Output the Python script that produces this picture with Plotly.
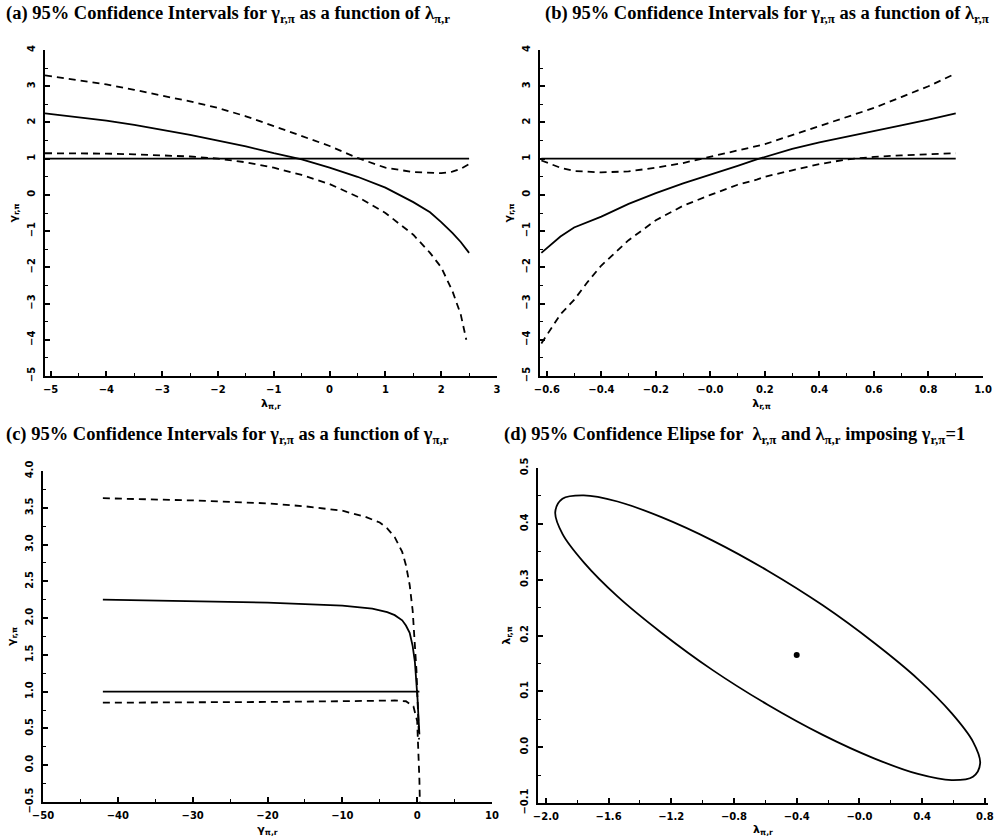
import plotly.graph_objects as go

# ---------------- Panel (a): gamma_{r,pi} vs lambda_{pi,r}
a_lam = [-5.1, -4.5, -4.0, -3.5, -3.0, -2.5, -2.0, -1.5, -1.0, -0.5, 0.0, 0.5, 1.0, 1.5, 1.8, 2.0, 2.2, 2.35, 2.5]
a_mid = [2.25, 2.15, 2.05, 1.93, 1.80, 1.66, 1.50, 1.34, 1.15, 0.98, 0.75, 0.50, 0.20, -0.20, -0.48, -0.75, -1.05, -1.30, -1.60]
a_up = [3.30, 3.17, 3.05, 2.90, 2.75, 2.58, 2.40, 2.17, 1.90, 1.63, 1.35, 1.02, 0.75, 0.63, 0.60, 0.60, 0.64, 0.72, 0.85]
a_lo_x = [-5.1, -4.5, -4.0, -3.5, -3.0, -2.5, -2.0, -1.5, -1.0, -0.5, 0.0, 0.5, 1.0, 1.5, 1.8, 2.0, 2.2, 2.35, 2.45]
a_lo = [1.15, 1.15, 1.14, 1.12, 1.10, 1.06, 1.00, 0.90, 0.75, 0.55, 0.30, -0.05, -0.50, -1.10, -1.60, -2.00, -2.65, -3.30, -4.00]
a_ref_x = [-5.1, 2.5]
a_ref_y = [1, 1]

# ---------------- Panel (b): gamma_{r,pi} vs lambda_{r,pi}
b_lam = [-0.62, -0.55, -0.5, -0.45, -0.4, -0.3, -0.2, -0.1, 0.0, 0.1, 0.17, 0.2, 0.3, 0.4, 0.5, 0.6, 0.7, 0.8, 0.9]
b_mid = [-1.60, -1.15, -0.90, -0.75, -0.60, -0.25, 0.05, 0.32, 0.55, 0.80, 0.98, 1.05, 1.27, 1.45, 1.60, 1.75, 1.92, 2.08, 2.25]
b_up = [0.95, 0.75, 0.66, 0.63, 0.62, 0.65, 0.75, 0.88, 1.05, 1.22, 1.35, 1.40, 1.65, 1.90, 2.15, 2.40, 2.70, 3.00, 3.35]
b_lo = [-4.10, -3.30, -2.90, -2.40, -1.95, -1.25, -0.70, -0.30, 0.00, 0.28, 0.42, 0.50, 0.68, 0.85, 0.98, 1.05, 1.09, 1.12, 1.15]
b_ref_x = [-0.62, 0.9]
b_ref_y = [1, 1]

# ---------------- Panel (c): gamma_{r,pi} vs gamma_{pi,r}
c_mid_x = [-42, -30, -20, -10, -6, -4, -3, -2, -1.5, -1.0, -0.6, -0.3, -0.1, 0.05, 0.15, 0.25, 0.3]
c_mid = [2.25, 2.23, 2.21, 2.17, 2.13, 2.08, 2.04, 1.97, 1.90, 1.80, 1.62, 1.40, 1.15, 0.90, 0.70, 0.50, 0.42]
c_up_x = [-42, -30, -20, -15, -10, -7, -5, -4, -3, -2, -1.5, -1.0, -0.6, -0.3, -0.1, 0.05, 0.15, 0.25]
c_up = [3.63, 3.60, 3.56, 3.52, 3.46, 3.38, 3.30, 3.22, 3.10, 2.90, 2.72, 2.45, 2.10, 1.70, 1.30, 0.90, 0.60, 0.35]
c_lo_x = [-42, -30, -20, -10, -5, -3, -1.5, -0.5, 0.0, 0.2, 0.3, 0.36]
c_lo = [0.85, 0.85, 0.86, 0.87, 0.88, 0.88, 0.87, 0.80, 0.60, 0.20, -0.20, -0.50]
c_ref_x = [-42, 0.3]
c_ref_y = [1, 1]

# ---------------- Panel (d): confidence ellipse for lambda_{pi,r}, lambda_{r,pi}
d_ell_x = [0.770, 0.724, 0.588, 0.373, 0.093, -0.234, -0.585, -0.936, -1.263, -1.543, -1.758, -1.894,
           -1.940, -1.894, -1.758, -1.543, -1.263, -0.936, -0.585, -0.234, 0.093, 0.373, 0.588, 0.724, 0.770]
d_ell_y = [-0.029, 0.010, 0.061, 0.122, 0.187, 0.254, 0.316, 0.370, 0.412, 0.440, 0.451, 0.445,
           0.421, 0.382, 0.331, 0.270, 0.205, 0.138, 0.076, 0.022, -0.020, -0.048, -0.059, -0.053, -0.029]
d_pt_x = [-0.40]
d_pt_y = [0.165]

# tick labels
a_xticks = [-5, -4, -3, -2, -1, 0, 1, 2, 3]
ab_yticks = [-5, -4, -3, -2, -1, 0, 1, 2, 3, 4]
b_xticks = [-0.6, -0.4, -0.2, 0.0, 0.2, 0.4, 0.6, 0.8, 1.0]
b_xtext = ["−0.6", "−0.4", "−0.2", "−0.0", "0.2", "0.4", "0.6", "0.8", "1.0"]
c_xticks = [-50, -40, -30, -20, -10, 0, 10]
c_yticks = [-0.5, 0.0, 0.5, 1.0, 1.5, 2.0, 2.5, 3.0, 3.5, 4.0]
c_ytext = ["−0.5", "0.0", "0.5", "1.0", "1.5", "2.0", "2.5", "3.0", "3.5", "4.0"]
d_xticks = [-2.0, -1.6, -1.2, -0.8, -0.4, 0.0, 0.4, 0.8]
d_xtext = ["−2.0", "−1.6", "−1.2", "−0.8", "−0.4", "−0.0", "0.4", "0.8"]
d_yticks = [-0.1, 0.0, 0.1, 0.2, 0.3, 0.4, 0.5]
d_ytext = ["−0.1", "0.0", "0.1", "0.2", "0.3", "0.4", "0.5"]

fig = go.Figure()


def line(x, y, ax, dash="solid"):
    fig.add_trace(go.Scatter(x=x, y=y, mode="lines",
                             line=dict(color="black", width=1.8, dash=dash),
                             xaxis="x" + ax, yaxis="y" + ax, showlegend=False,
                             hoverinfo="skip"))


DASH = "7px,5px"
line(a_ref_x, a_ref_y, "")
line(a_lam, a_mid, "")
line(a_lam, a_up, "", DASH)
line(a_lo_x, a_lo, "", DASH)

line(b_ref_x, b_ref_y, "2")
line(b_lam, b_mid, "2")
line(b_lam, b_up, "2", DASH)
line(b_lam, b_lo, "2", DASH)

line(c_ref_x, c_ref_y, "3")
line(c_mid_x, c_mid, "3")
line(c_up_x, c_up, "3", DASH)
line(c_lo_x, c_lo, "3", DASH)

fig.add_trace(go.Scatter(x=d_ell_x, y=d_ell_y, mode="lines", line=dict(color="black", width=1.8, shape="spline"),
                         xaxis="x4", yaxis="y4", showlegend=False))
fig.add_trace(go.Scatter(x=d_pt_x, y=d_pt_y, mode="markers", marker=dict(color="black", size=6),
                         xaxis="x4", yaxis="y4", showlegend=False))

W, H = 1000, 837
TF = dict(family="DejaVu Sans", size=10, color="black", weight="bold")


def axis(dom, rng, anchor, title, tickvals, ticktext=None, minor=None, is_y=False):
    d = dict(domain=dom, range=rng, anchor=anchor, showline=True, linewidth=2, linecolor="black",
             ticks="inside", ticklen=5, tickwidth=1.5, tickcolor="black", showgrid=False, zeroline=False,
             tickfont=TF, tickmode="array", tickvals=tickvals, automargin=False,
             ticklabeloverflow="allow",
             title=dict(text=title, font=dict(family="DejaVu Sans", size=11, color="black", weight="bold")))
    if ticktext is not None:
        d["ticktext"] = ticktext
    if minor is not None:
        d["minor"] = dict(ticks="inside", ticklen=3, tickwidth=1, tickcolor="black", tickmode="array", tickvals=minor)
    if is_y:
        d["tickangle"] = -90
        d["ticklabelstandoff"] = 4
        d["title"]["standoff"] = 6
    else:
        d["ticklabelstandoff"] = 3
        d["title"]["standoff"] = 5
    return d


def px(a, b):
    return [a / W, b / W]


def py(top, bottom):
    return [1 - bottom / H, 1 - top / H]


a_minor_y = [v + 0.5 for v in ab_yticks[:-1]]
a_minor_x = [v + 0.5 for v in a_xticks[:-1]]
b_minor_x = [round(v + 0.1, 2) for v in b_xticks[:-1]]
c_minor_x = [v + 5 for v in c_xticks[:-1]]
c_minor_y = [round(v + 0.25, 2) for v in c_yticks[:-1]]
d_minor_x = [round(v + 0.2, 2) for v in d_xticks[:-1]]
d_minor_y = [round(v + 0.05, 2) for v in d_yticks[:-1]]

fig.update_layout(
    width=W, height=H, margin=dict(l=0, r=0, t=0, b=0, autoexpand=False),
    paper_bgcolor="white", plot_bgcolor="white", showlegend=False,
    xaxis=axis(px(45, 497), [-5.1, 3.0], "y", "λ<sub>π,r</sub>", a_xticks, minor=a_minor_x),
    yaxis=axis(py(50, 376), [-5, 4], "x", "γ<sub>r,π</sub>", ab_yticks, minor=a_minor_y, is_y=True),
    xaxis2=axis(px(540, 983), [-0.625, 1.0], "y2", "λ<sub>r,π</sub>", b_xticks, b_xtext, minor=b_minor_x),
    yaxis2=axis(py(50, 376), [-5, 4], "x2", "γ<sub>r,π</sub>", ab_yticks, minor=a_minor_y, is_y=True),
    xaxis3=axis(px(43, 492), [-50, 10], "y3", "γ<sub>π,r</sub>", c_xticks, minor=c_minor_x),
    yaxis3=axis(py(471, 802), [-0.5, 4.0], "x3", "γ<sub>r,π</sub>", c_yticks, c_ytext, minor=c_minor_y, is_y=True),
    xaxis4=axis(px(538, 988), [-2.05, 0.82], "y4", "λ<sub>π,r</sub>", d_xticks, d_xtext, minor=d_minor_x),
    yaxis4=axis(py(468, 803), [-0.1, 0.5], "x4", "λ<sub>r,π</sub>", d_yticks, d_ytext, minor=d_minor_y, is_y=True),
)

TT = dict(family="Liberation Serif", size=18.5, color="black", weight="bold")
titles = [
    (4, 15, "(a) 95% Confidence Intervals for γ<sub>r,π</sub> as a function of λ<sub>π,r</sub>"),
    (543, 15, "(b) 95% Confidence Intervals for γ<sub>r,π</sub> as a function of λ<sub>r,π</sub>"),
    (4, 436, "(c) 95% Confidence Intervals for γ<sub>r,π</sub> as a function of γ<sub>π,r</sub>"),
    (502, 436, "(d) 95% Confidence Elipse for  λ<sub>r,π</sub> and λ<sub>π,r</sub> imposing γ<sub>r,π</sub>=1"),
]
for x0, y0, t in titles:
    fig.add_annotation(x=x0 / W, y=1 - y0 / H, xref="paper", yref="paper",
                       xanchor="left", yanchor="middle", text=t, showarrow=False, font=TT)

# remove the browser's default page margin so the figure sits at the window's top-left corner
fig.write_html("out.html", config={"displayModeBar": False},
               post_script="document.body.style.margin='0px';document.body.style.overflow='hidden';")
